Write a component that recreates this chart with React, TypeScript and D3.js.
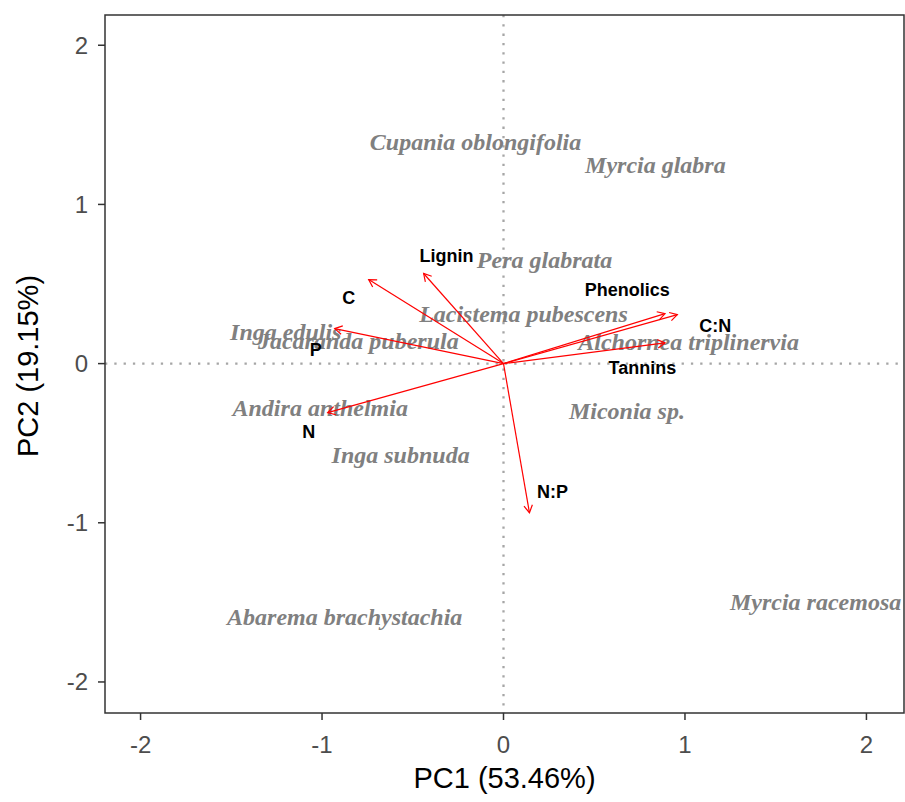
import React from "react";
import * as d3 from "d3";

// Species scores (PC1, PC2)
const species = [
  "Cupania oblongifolia",
  "Myrcia glabra",
  "Pera glabrata",
  "Lacistema pubescens",
  "Inga edulis",
  "Jacaranda puberula",
  "Alchornea triplinervia",
  "Andira anthelmia",
  "Miconia sp.",
  "Inga subnuda",
  "Abarema brachystachia",
  "Myrcia racemosa",
];
const speciesPC1 = [-0.154, 0.837, 0.226, 0.11, -1.2, -0.8, 1.02, -1.01, 0.68, -0.567, -0.875, 1.72];
const speciesPC2 = [1.39, 1.25, 0.648, 0.314, 0.2, 0.145, 0.138, -0.277, -0.296, -0.572, -1.59, -1.5];

// Trait loadings (arrow tips) and their label positions
const traits = ["C", "Lignin", "P", "N", "Phenolics", "C:N", "Tannins", "N:P"];
const loadPC1 = [-0.743, -0.44, -0.93, -0.969, 0.89, 0.958, 0.89, 0.143];
const loadPC2 = [0.528, 0.566, 0.22, -0.308, 0.314, 0.308, 0.13, -0.937];
const labelPC1 = [-0.853, -0.314, -1.035, -1.073, 0.682, 1.167, 0.765, 0.27];
const labelPC2 = [0.409, 0.673, 0.088, -0.428, 0.465, 0.239, -0.025, -0.805];

const xTicks = [-2, -1, 0, 1, 2];
const yTicks = [-2, -1, 0, 1, 2];

const W = 905;
const H = 802;
const panel = { left: 105, right: 904, top: 15, bottom: 713 };

export default function App() {
  const x = d3.scaleLinear().domain([-2.196, 2.207]).range([panel.left, panel.right]);
  const y = d3.scaleLinear().domain([-2.195, 2.19]).range([panel.bottom, panel.top]);

  const sans = "Liberation Sans, Arial, sans-serif";
  const serif = "Liberation Serif, Times New Roman, serif";

  const arrowHead = (x0: number, y0: number, x1: number, y1: number) => {
    const ang = Math.atan2(y1 - y0, x1 - x0);
    const len = 8.5;
    const spread = Math.PI / 6;
    const a1 = ang + Math.PI - spread;
    const a2 = ang + Math.PI + spread;
    return `M${x1 + len * Math.cos(a1)},${y1 + len * Math.sin(a1)}L${x1},${y1}L${x1 + len * Math.cos(a2)},${y1 + len * Math.sin(a2)}`;
  };

  return (
    <svg width={W} height={H} style={{ position: "absolute", left: 0, top: 0, background: "#fff" }}>
      <defs>
        <clipPath id="panel-clip">
          <rect x={panel.left} y={panel.top} width={panel.right - panel.left} height={panel.bottom - panel.top} />
        </clipPath>
      </defs>

      {/* zero reference lines */}
      <g clipPath="url(#panel-clip)">
        <line x1={panel.left} x2={panel.right} y1={y(0)} y2={y(0)} stroke="#a6a6a6" strokeWidth={2.3} strokeDasharray="2.3 7" />
        <line x1={x(0)} x2={x(0)} y1={panel.top} y2={panel.bottom} stroke="#a6a6a6" strokeWidth={2.3} strokeDasharray="2.3 7" />
      </g>

      {/* species labels */}
      <g>
        {species.map((s, i) => (
          <text
            key={s}
            x={x(speciesPC1[i])}
            y={y(speciesPC2[i])}
            textAnchor="middle"
            dominantBaseline="central"
            fontFamily={serif}
            fontStyle="italic"
            fontWeight="bold"
            fontSize={24}
            fill="#808080"
          >
            {s}
          </text>
        ))}
      </g>

      {/* loading arrows */}
      <g stroke="#ff0000" strokeWidth={1.2} fill="none">
        {traits.map((t, i) => {
          const x0 = x(0), y0 = y(0), x1 = x(loadPC1[i]), y1 = y(loadPC2[i]);
          return (
            <g key={t}>
              <line x1={x0} y1={y0} x2={x1} y2={y1} />
              <path d={arrowHead(x0, y0, x1, y1)} />
            </g>
          );
        })}
      </g>

      {/* trait labels */}
      <g>
        {traits.map((t, i) => (
          <text
            key={t}
            x={x(labelPC1[i])}
            y={y(labelPC2[i])}
            textAnchor="middle"
            dominantBaseline="central"
            fontFamily={sans}
            fontWeight="bold"
            fontSize={18}
            fill="#000"
          >
            {t}
          </text>
        ))}
      </g>

      {/* panel border */}
      <rect x={panel.left} y={panel.top} width={panel.right - panel.left} height={panel.bottom - panel.top} fill="none" stroke="#333" strokeWidth={1.5} />

      {/* x axis */}
      <g>
        {xTicks.map((t) => (
          <g key={t}>
            <line x1={x(t)} x2={x(t)} y1={panel.bottom} y2={panel.bottom + 7} stroke="#333" strokeWidth={1.5} />
            <text x={x(t)} y={panel.bottom + 31} textAnchor="middle" dominantBaseline="central" fontFamily={sans} fontSize={24} fill="#4d4d4d">
              {t}
            </text>
          </g>
        ))}
        <text x={(panel.left + panel.right) / 2} y={778} textAnchor="middle" dominantBaseline="central" fontFamily={sans} fontSize={29} fill="#000">
          PC1 (53.46%)
        </text>
      </g>

      {/* y axis */}
      <g>
        {yTicks.map((t) => (
          <g key={t}>
            <line x1={panel.left - 7} x2={panel.left} y1={y(t)} y2={y(t)} stroke="#333" strokeWidth={1.5} />
            <text x={panel.left - 17} y={y(t)} textAnchor="end" dominantBaseline="central" fontFamily={sans} fontSize={24} fill="#4d4d4d">
              {t}
            </text>
          </g>
        ))}
        <text
          transform={`translate(28,366) rotate(-90)`}
          textAnchor="middle"
          dominantBaseline="central"
          fontFamily={sans}
          fontSize={29}
          fill="#000"
        >
          PC2 (19.15%)
        </text>
      </g>
    </svg>
  );
}
